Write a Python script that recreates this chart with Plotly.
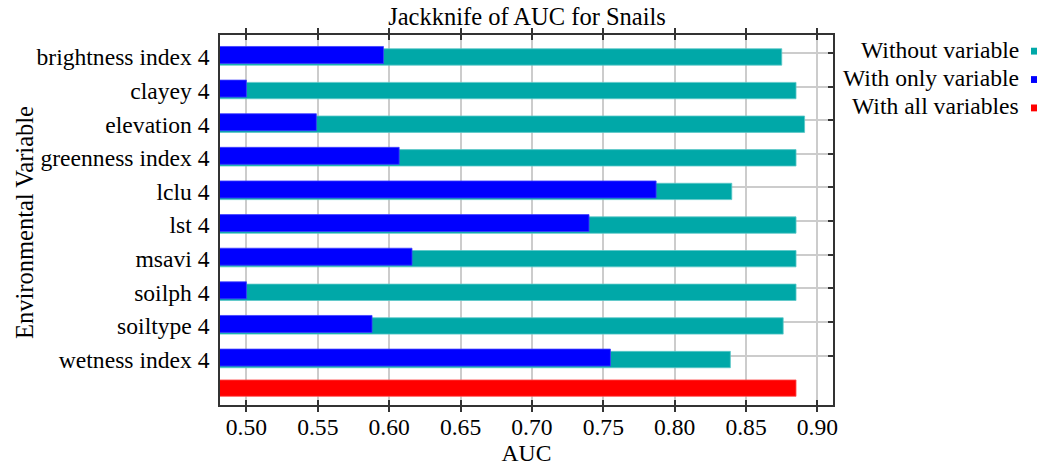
import plotly.graph_objects as go

# Jackknife results (AUC) per environmental variable
variables = [
    "brightness index 4", "clayey 4", "elevation 4", "greenness index 4",
    "lclu 4", "lst 4", "msavi 4", "soilph 4", "soiltype 4", "wetness index 4",
]
without_variable = [0.875, 0.885, 0.891, 0.885, 0.840, 0.885, 0.885, 0.885, 0.876, 0.839]
with_only_variable = [0.596, 0.500, 0.549, 0.607, 0.787, 0.740, 0.616, 0.500, 0.588, 0.755]
with_all_variables = 0.885
x_ticks = [0.50, 0.55, 0.60, 0.65, 0.70, 0.75, 0.80, 0.85, 0.90]

TEAL = "#00A8A8"
BLUE = "#0000FF"
RED = "#FF0000"
FONT = "Liberation Serif"
FS = 23.6

pos = list(range(len(variables)))
all_pos = pos[-1] + 0.85          # the "all variables" bar sits a little closer
x_range = [0.4815, 0.9109]
y_range = [10.47, -0.534]

fig = go.Figure()
fig.add_trace(go.Bar(
    y=pos, x=without_variable, orientation="h", base=0,
    width=0.487, offset=-0.125,
    marker=dict(color=TEAL, line=dict(color="#5CC8C8", width=0.8)),
    showlegend=False,
))
fig.add_trace(go.Bar(
    y=pos, x=with_only_variable, orientation="h", base=0,
    width=0.505, offset=-0.193,
    marker=dict(color=BLUE, line=dict(color="#4040FF", width=0.8)),
    showlegend=False,
))
fig.add_trace(go.Bar(
    y=[all_pos], x=[with_all_variables], orientation="h", base=0,
    width=0.487, offset=-0.125,
    marker=dict(color=RED, line=dict(color="#FF5050", width=0.8)),
    showlegend=False,
))
# invisible trace that carries the right-hand tick/grid axis
fig.add_trace(go.Scatter(x=[None], y=[None], yaxis="y2", showlegend=False))

L, T, R, B = 220, 35, 214, 58
W_, H_ = 1047, 471
PW, PH = W_ - L - R, H_ - T - B


def px_x(x):
    return (x - L) / PW


def px_y(y):
    return 1 - (y - T) / PH


fig.update_layout(
    width=W_, height=H_,
    margin=dict(l=L, r=R, t=T, b=B),
    paper_bgcolor="white", plot_bgcolor="white",
    barmode="overlay",
    font=dict(family=FONT, size=FS, color="black"),
    title=dict(text="Jackknife of AUC for Snails", x=px_x(527), xanchor="center",
               xref="paper", y=1 - 16 / H_, yref="container", yanchor="middle",
               font=dict(family=FONT, size=24.5, color="black")),
    xaxis=dict(
        range=x_range, tickvals=x_ticks, tickformat=".2f",
        ticks="inside", ticklen=5, tickwidth=1.5, tickcolor="#333333",
        showline=True, linecolor="#333333", linewidth=1.5, mirror="allticks",
        showgrid=True, gridcolor="#CCCCCC", gridwidth=1.5, zeroline=False,
        tickfont=dict(family=FONT, size=FS, color="black"),
        title=dict(text="AUC", font=dict(family=FONT, size=FS, color="black"), standoff=2),
    ),
    yaxis=dict(
        range=y_range, tickvals=[p + 0.12 for p in pos], ticktext=variables,
        ticks="", showgrid=False, zeroline=False,
        showline=True, linecolor="#333333", linewidth=1.5, mirror=True,
        ticklabelstandoff=4,
        tickfont=dict(family=FONT, size=FS, color="black"),
    ),
    yaxis2=dict(
        range=y_range, overlaying="y", side="right", tickvals=pos,
        showticklabels=False, ticks="inside", ticklen=5, tickwidth=1.5,
        tickcolor="#333333", showgrid=True, gridcolor="#CCCCCC", gridwidth=1.5,
        zeroline=False, showline=False,
    ),
)

# y-axis title
fig.add_annotation(
    text="Environmental Variable", textangle=-90, showarrow=False,
    xref="paper", yref="paper", x=px_x(25), y=px_y(226),
    xanchor="center", yanchor="middle",
    font=dict(family=FONT, size=24.5, color="black"),
)

# legend: right-aligned labels with small colour squares after them
legend_items = [("Without variable", TEAL, 50), ("With only variable", BLUE, 79),
                ("With all variables", RED, 108)]
for label, color, yc in legend_items:
    fig.add_annotation(
        text=label, showarrow=False, xref="paper", yref="paper",
        x=px_x(1021), y=px_y(yc), xanchor="right", yanchor="middle",
        font=dict(family=FONT, size=FS, color="black"),
    )
    fig.add_shape(
        type="rect", xref="paper", yref="paper",
        x0=px_x(1031), x1=px_x(1037), y0=px_y(yc - 2), y1=px_y(yc + 5),
        fillcolor=color, line=dict(width=0),
    )

fig.write_html("out.html")
